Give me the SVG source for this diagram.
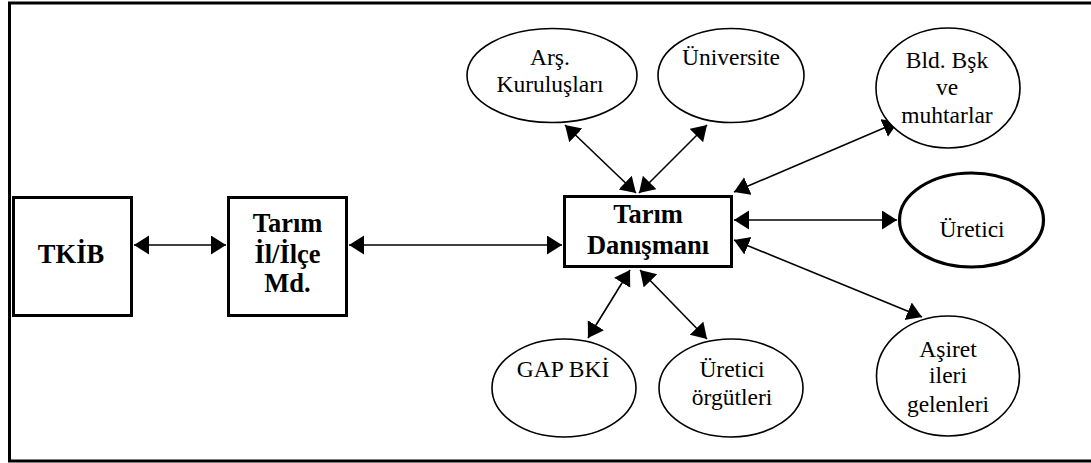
<svg xmlns="http://www.w3.org/2000/svg" width="1091" height="463" viewBox="0 0 1091 463" font-family="Liberation Serif, serif">
<style>
.box{fill:#fff;stroke:#000;stroke-width:3}
.ell{fill:#fff;stroke:#000;stroke-width:1.6}
.ellb{fill:#fff;stroke:#000;stroke-width:3.2}
.bt{font-weight:bold;font-size:26.5px;text-anchor:middle}
.et{font-size:23.5px;text-anchor:middle}
.con{stroke:#000;stroke-width:1.6;fill:none;marker-start:url(#ah);marker-end:url(#ah)}
</style>
<defs>
<marker id="ah" markerUnits="userSpaceOnUse" markerWidth="16" markerHeight="20" refX="15" refY="9.5" orient="auto-start-reverse" viewBox="0 0 16 20">
<path d="M0,0 L15,9.5 L0,19 z" fill="#000"/>
</marker>
</defs>
<rect width="1091" height="463" fill="#fff"/>
<path d="M1091,3 H9.5 V461 H1091" fill="none" stroke="#000" stroke-width="3"/>
<g id="connectors">
<line class="con" x1="134" y1="245" x2="226" y2="245"/>
<line class="con" x1="349" y1="245" x2="562" y2="245"/>
<line class="con" x1="734" y1="220" x2="897" y2="220"/>
<line class="con" x1="734" y1="240" x2="922" y2="317"/>
<line class="con" x1="734" y1="192" x2="898" y2="122"/>
<line class="con" x1="636" y1="193" x2="565" y2="125"/>
<line class="con" x1="639" y1="193" x2="707" y2="125"/>
<line class="con" x1="630" y1="270" x2="588" y2="338"/>
<line class="con" x1="640" y1="270" x2="707" y2="339"/>
</g>
<g id="tkib">
<rect class="box" x="13.5" y="197.5" width="118" height="118"/>
<text class="bt" x="71" y="263">TKİB</text>
</g>
<g id="tarim-il">
<rect class="box" x="228.5" y="197.5" width="118" height="118"/>
<text class="bt" x="287.5" y="232">Tarım</text>
<text class="bt" x="287.5" y="263">İl/İlçe</text>
<text class="bt" x="287.5" y="292">Md.</text>
</g>
<g id="danisman">
<rect class="box" x="564.5" y="196.5" width="167" height="70"/>
<text class="bt" x="648" y="223">Tarım</text>
<text class="bt" x="648" y="254">Danışmanı</text>
</g>
<g id="ars">
<ellipse class="ell" cx="552" cy="75.5" rx="85" ry="47"/>
<text class="et" x="550" y="65">Arş.</text>
<text class="et" x="550" y="92">Kuruluşları</text>
</g>
<g id="universite">
<ellipse class="ell" cx="731" cy="75.5" rx="73" ry="47"/>
<text class="et" x="731" y="65">Üniversite</text>
</g>
<g id="bld">
<ellipse class="ell" cx="948" cy="88" rx="72" ry="60"/>
<text class="et" x="947" y="68">Bld. Bşk</text>
<text class="et" x="947" y="95">ve</text>
<text class="et" x="947" y="123">muhtarlar</text>
</g>
<g id="uretici">
<ellipse class="ellb" cx="971.5" cy="220" rx="72" ry="47"/>
<text class="et" x="972" y="237">Üretici</text>
</g>
<g id="asiret">
<ellipse class="ell" cx="948" cy="376" rx="71.5" ry="60"/>
<text class="et" x="948" y="357">Aşiret</text>
<text class="et" x="948" y="383">ileri</text>
<text class="et" x="948" y="412">gelenleri</text>
</g>
<g id="gap">
<ellipse class="ell" cx="564" cy="388" rx="72" ry="49"/>
<text class="et" x="563" y="377">GAP BKİ</text>
</g>
<g id="orgutler">
<ellipse class="ell" cx="731" cy="388" rx="72" ry="49"/>
<text class="et" x="732" y="377">Üretici</text>
<text class="et" x="732" y="405">örgütleri</text>
</g>
</svg>
